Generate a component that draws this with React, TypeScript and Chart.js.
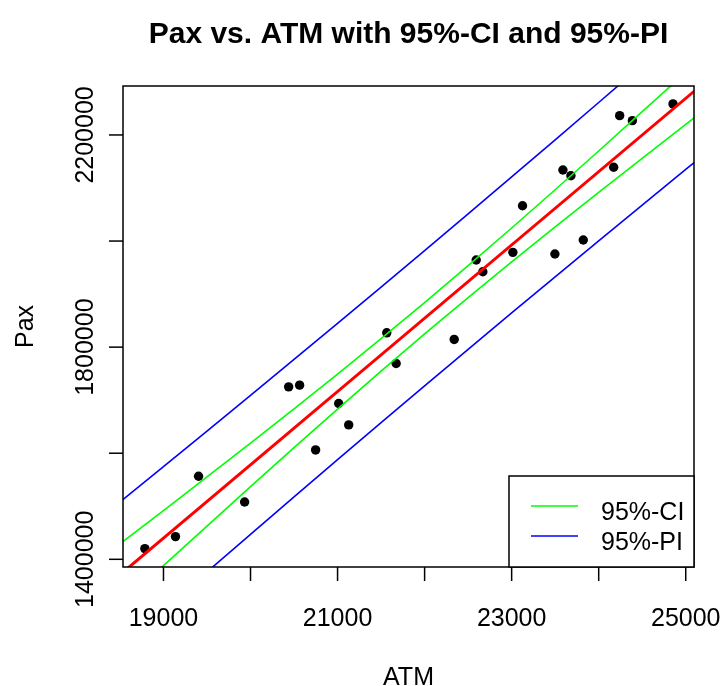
import React, { useEffect, useRef } from "react";
import { Chart, registerables } from "chart.js";

Chart.register(...registerables);

const atm = [18786, 19138, 19403, 19932, 20438, 20564, 20748, 21013, 21128, 21565, 21673, 22340, 22593, 22669, 23014, 23125, 23497, 23589, 23681, 23823, 24172, 24241, 24387, 24854];
const pax = [1420200, 1442800, 1556600, 1508100, 1725100, 1728300, 1606200, 1693800, 1653400, 1827000, 1769200, 1814500, 1964200, 1942100, 1978700, 2066600, 1975500, 2134000, 2123200, 2001900, 2139100, 2236400, 2227000, 2258500];

// Fitted regression line (two ends)
const fitAtm = [18500, 25100];
const fitPax = [1370870, 2282810];

// Confidence / prediction bands
const bandAtm = [18530, 19000, 19500, 20000, 20500, 21000, 21500, 22000, 22500, 23000, 23500, 24000, 24500, 25000, 25100];
const ciUpper = [1433014, 1491953, 1555538, 1619123, 1683708, 1749293, 1815878, 1883963, 1953548, 2024633, 2096718, 2169803, 2243888, 2317973, 2332790];
const ciLower = [1317014, 1387953, 1462538, 1537123, 1610708, 1683293, 1754878, 1824963, 1893548, 1960633, 2026718, 2091803, 2155888, 2219973, 2232790];
const piUpper = [1512214, 1574853, 1641838, 1709123, 1776808, 1844793, 1913278, 1982063, 2051248, 2120833, 2190818, 2261203, 2331888, 2402973, 2417290];
const piLower = [1237814, 1305053, 1376238, 1447123, 1517608, 1587793, 1657478, 1726863, 1795848, 1864433, 1932618, 2000403, 2067888, 2134973, 2148290];

// Axes
const xTicks = [19000, 20000, 21000, 22000, 23000, 24000, 25000];
const xTickLabels = ["19000", "", "21000", "", "23000", "", "25000"];
const yTicks = [1400000, 1600000, 1800000, 2000000, 2200000];
const yTickLabels = ["1400000", "", "1800000", "", "2200000"];
const xRange = [18535, 25095];
const yRange = [1385500, 2292300];

const titleText = "Pax vs. ATM with 95%-CI and 95%-PI";
const xTitle = "ATM";
const yTitle = "Pax";
const legendLabels = ["95%-CI", "95%-PI"];
const legendColors = ["#00FF00", "#0000FF"];

const FONT = "'Liberation Sans', Arial, Helvetica, sans-serif";

const zip = (xs: number[], ys: number[]) => xs.map((x, i) => ({ x, y: ys[i] }));

const rPlot = {
  id: "rPlot",
  afterDraw(chart: any) {
    const ctx = chart.ctx as CanvasRenderingContext2D;
    const { left, right, top, bottom } = chart.chartArea;
    const xs = chart.scales.x;
    const ys = chart.scales.y;
    const line = (x1: number, y1: number, x2: number, y2: number) => {
      ctx.beginPath();
      ctx.moveTo(x1, y1);
      ctx.lineTo(x2, y2);
      ctx.stroke();
    };
    ctx.save();
    ctx.strokeStyle = "#000";
    ctx.fillStyle = "#000";
    ctx.lineWidth = 1.5;
    ctx.strokeRect(left, top, right - left, bottom - top);

    // x ticks + labels
    ctx.font = `25px ${FONT}`;
    ctx.textAlign = "center";
    ctx.textBaseline = "alphabetic";
    xTicks.forEach((v, i) => {
      const px = xs.getPixelForValue(v);
      line(px, bottom, px, bottom + 14);
      if (xTickLabels[i]) ctx.fillText(xTickLabels[i], px, 626);
    });
    // y ticks + labels
    yTicks.forEach((v, i) => {
      const py = ys.getPixelForValue(v);
      line(left - 14, py, left, py);
      if (yTickLabels[i]) {
        ctx.save();
        ctx.translate(left - 30, py);
        ctx.rotate(-Math.PI / 2);
        ctx.fillText(yTickLabels[i], 0, 0);
        ctx.restore();
      }
    });

    // axis titles
    ctx.fillText(xTitle, (left + right) / 2, 685);
    ctx.save();
    ctx.translate(left - 90, (top + bottom) / 2);
    ctx.rotate(-Math.PI / 2);
    ctx.fillText(yTitle, 0, 0);
    ctx.restore();

    // main title
    ctx.font = `bold 30px ${FONT}`;
    ctx.fillText(titleText, (left + right) / 2, 43);

    // legend
    const lw = 185, lh = 91;
    const lx = right - lw, ly = bottom - lh;
    ctx.fillStyle = "#fff";
    ctx.fillRect(lx, ly, lw, lh);
    ctx.strokeStyle = "#000";
    ctx.lineWidth = 1.5;
    ctx.strokeRect(lx, ly, lw, lh);
    ctx.font = `25px ${FONT}`;
    ctx.textAlign = "left";
    legendLabels.forEach((lab, i) => {
      const yy = ly + 30 + i * 30;
      ctx.strokeStyle = legendColors[i];
      ctx.lineWidth = 1.5;
      line(lx + 22, yy, lx + 69, yy);
      ctx.fillStyle = "#000";
      ctx.fillText(lab, lx + 92, yy + 14);
    });
    ctx.restore();
  },
};

export default function App() {
  const ref = useRef<HTMLCanvasElement | null>(null);
  useEffect(() => {
    if (!ref.current) return;
    const lineDs = (label: string, data: any[], color: string, width: number) => ({
      label,
      data,
      showLine: true,
      borderColor: color,
      backgroundColor: color,
      borderWidth: width,
      pointRadius: 0,
      pointHoverRadius: 0,
      tension: 0,
      fill: false,
      clip: 0,
    });
    const chart = new Chart(ref.current, {
      type: "scatter",
      data: {
        datasets: [
          lineDs("fit", zip(fitAtm, fitPax), "#FF0000", 3),
          lineDs("ciU", zip(bandAtm, ciUpper), "#00FF00", 1.6),
          lineDs("ciL", zip(bandAtm, ciLower), "#00FF00", 1.6),
          lineDs("piU", zip(bandAtm, piUpper), "#0000FF", 1.6),
          lineDs("piL", zip(bandAtm, piLower), "#0000FF", 1.6),
          {
            label: "obs",
            data: zip(atm, pax),
            showLine: false,
            pointRadius: 4.7,
            pointBackgroundColor: "#000",
            pointBorderWidth: 0,
            borderColor: "#000",
            backgroundColor: "#000",
          } as any,
        ],
      },
      options: {
        responsive: false,
        animation: false,
        devicePixelRatio: 1,
        layout: { padding: { left: 0, top: 86, right: 28, bottom: 0 } },
        plugins: { legend: { display: false }, title: { display: false }, tooltip: { enabled: false } },
        events: [],
        scales: {
          x: {
            type: "linear",
            min: xRange[0],
            max: xRange[1],
            grid: { display: false },
            border: { display: false },
            ticks: { display: false },
            afterFit: (s: any) => { s.height = 119; },
          },
          y: {
            type: "linear",
            min: yRange[0],
            max: yRange[1],
            grid: { display: false },
            border: { display: false },
            ticks: { display: false },
            afterFit: (s: any) => { s.width = 123; },
          },
        },
      } as any,
      plugins: [rPlot],
    });
    return () => chart.destroy();
  }, []);
  return (
    <div style={{ position: "fixed", left: 0, top: 0, width: 722, height: 686, background: "#fff" }}>
      <canvas ref={ref} width={722} height={686} style={{ display: "block" }} />
    </div>
  );
}
